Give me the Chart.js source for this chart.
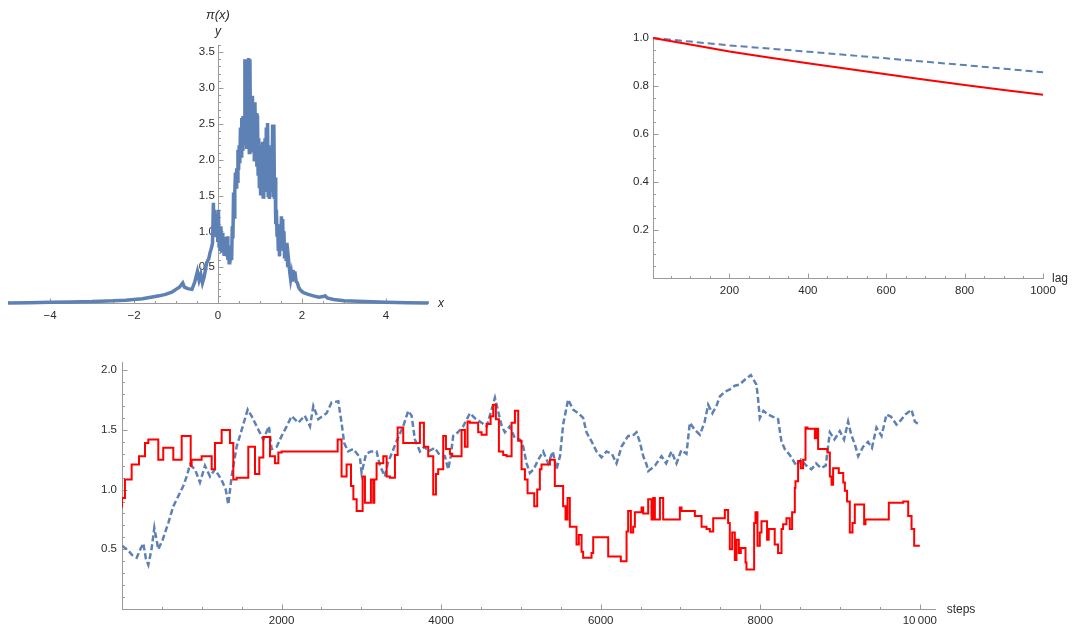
<!DOCTYPE html>
<html>
<head>
<meta charset="utf-8">
<script src="https://cdn.jsdelivr.net/npm/chart.js@4.4.1/dist/chart.umd.min.js"></script>
<style>
    body { margin: 0; background: #ffffff; }
    .box { position: absolute; }
</style>
</head>
<body>
<div class="box" style="left:0px;top:0px;"><canvas id="densityChart" width="470" height="330"></canvas></div>
<div class="box" style="left:600px;top:0px;"><canvas id="acfChart" width="478" height="320"></canvas></div>
<div class="box" style="left:0px;top:340px;"><canvas id="traceChart" width="1078" height="287"></canvas></div>
<script>
// ---- density pi(x) ----
const densX = [-5.0, -4.5, -4.0, -3.5, -3.0, -2.8, -2.5, -2.2, -2.0, -1.8, -1.6, -1.4, -1.25, -1.1, -1.0, -0.92, -0.84, -0.80, -0.72, -0.62,
    -0.55, -0.49, -0.45, -0.41, -0.37, -0.33, -0.27, -0.22, -0.19, -0.15, -0.13, -0.11, -0.095, -0.08, -0.065, -0.05, -0.035, -0.02, -0.005, 0.01,
    0.025, 0.04, 0.055, 0.07, 0.085, 0.10, 0.115, 0.13, 0.145, 0.16, 0.175, 0.19, 0.205, 0.22, 0.235, 0.25, 0.265, 0.28, 0.295, 0.31,
    0.325, 0.34, 0.355, 0.37, 0.385, 0.400, 0.415, 0.430, 0.445, 0.460, 0.475, 0.490, 0.505, 0.520, 0.535, 0.550, 0.565, 0.580, 0.595, 0.610,
    0.625, 0.640, 0.655, 0.670, 0.685, 0.700, 0.715, 0.730, 0.745, 0.760, 0.775, 0.790, 0.805, 0.820, 0.835, 0.850, 0.865, 0.880, 0.895, 0.910,
    0.925, 0.940, 0.955, 0.970, 0.985, 1.000, 1.015, 1.030, 1.045, 1.060, 1.075, 1.090, 1.105, 1.120, 1.135, 1.150, 1.165, 1.180, 1.195, 1.210,
    1.225, 1.240, 1.255, 1.270, 1.285, 1.300, 1.315, 1.330, 1.345, 1.360, 1.375, 1.390, 1.405, 1.420, 1.435, 1.450, 1.465, 1.480, 1.495, 1.510,
    1.525, 1.540, 1.555, 1.570, 1.585, 1.600, 1.62, 1.64, 1.66, 1.68, 1.71, 1.73, 1.75, 1.77, 1.79, 1.81, 1.83, 1.86, 1.89, 1.92,
    1.95, 2.0, 2.05, 2.15, 2.27, 2.40, 2.50, 2.55, 2.60, 2.75, 3.0, 3.5, 4.0, 4.5, 5.0];
const densY = [0.00, 0.005, 0.01, 0.015, 0.02, 0.025, 0.03, 0.04, 0.05, 0.06, 0.08, 0.10, 0.12, 0.15, 0.19, 0.22, 0.28, 0.22, 0.20, 0.19,
    0.30, 0.44, 0.32, 0.40, 0.28, 0.36, 0.56, 0.62, 0.70, 0.78, 0.84, 1.40, 1.00, 1.30, 0.95, 1.10, 0.92, 1.25, 0.85, 1.30,
    0.80, 1.05, 0.75, 1.07, 0.70, 0.98, 0.72, 0.90, 0.68, 0.92, 0.70, 0.85, 0.65, 0.93, 0.60, 0.80, 0.56, 0.72, 0.58, 0.70,
    0.60, 1.07, 0.90, 1.54, 1.20, 1.54, 1.82, 1.62, 1.88, 1.70, 2.14, 1.85, 2.20, 1.95, 2.45, 2.05, 2.58, 2.15, 2.61, 2.20,
    2.55, 3.40, 2.20, 3.38, 2.15, 3.40, 2.30, 3.42, 2.10, 3.40, 2.25, 2.85, 2.10, 2.89, 2.25, 2.75, 2.00, 2.80, 2.10, 2.65,
    1.90, 2.62, 1.80, 2.30, 1.60, 2.14, 1.50, 2.20, 1.55, 2.25, 1.48, 2.10, 1.60, 2.30, 1.55, 2.45, 1.60, 2.51, 1.50, 2.20,
    1.45, 1.95, 1.60, 2.00, 1.55, 2.49, 1.50, 2.49, 1.45, 1.75, 1.10, 1.30, 0.95, 1.10, 0.75, 0.95, 0.65, 1.00, 0.80, 1.21,
    0.85, 1.17, 0.75, 1.00, 0.62, 0.84, 0.61, 0.84, 0.50, 0.60, 0.42, 0.33, 0.40, 0.30, 0.46, 0.35, 0.44, 0.30, 0.28, 0.22,
    0.19, 0.16, 0.14, 0.12, 0.10, 0.08, 0.09, 0.10, 0.07, 0.05, 0.03, 0.02, 0.01, 0.005, 0.0];
const densXTicks = [-4, -2, 0, 2, 4];
const densYTicks = [0.5, 1.0, 1.5, 2.0, 2.5, 3.0, 3.5];

// ---- autocorrelation ----
const lags = [5, 100, 200, 300, 400, 500, 600, 700, 800, 900, 1000];
const acfRed = [1.0, 0.973, 0.944, 0.919, 0.895, 0.872, 0.849, 0.826, 0.804, 0.783, 0.763];
const acfBlue = [1.0, 0.985, 0.969, 0.956, 0.943, 0.929, 0.915, 0.901, 0.887, 0.872, 0.857];
const acfXTicks = [200, 400, 600, 800, 1000];
const acfYTicks = [0.2, 0.4, 0.6, 0.8, 1.0];

// ---- trace plots ----
const redSteps = [0, 37, 121, 213, 288, 330, 455, 517, 643, 748, 861, 873, 998, 1124, 1165, 1249, 1353, 1395, 1437, 1583,
    1667, 1721, 1771, 1855, 1917, 1960, 2001, 2703, 2752, 2815, 2870, 2900, 2941, 3016, 3045, 3120, 3149, 3162, 3191, 3275,
    3317, 3358, 3421, 3455, 3525, 3734, 3784, 3838, 3901, 3935, 3963, 4026, 4060, 4110, 4139, 4256, 4298, 4331, 4360, 4464,
    4507, 4570, 4620, 4653, 4686, 4724, 4778, 4820, 4883, 4925, 4966, 5008, 5050, 5083, 5167, 5204, 5237, 5258, 5363, 5425,
    5529, 5559, 5584, 5613, 5697, 5726, 5760, 5780, 5885, 5906, 6094, 6252, 6324, 6344, 6378, 6407, 6428, 6512, 6533, 6595,
    6637, 6658, 6679, 6742, 6783, 6992, 7013, 7180, 7264, 7326, 7368, 7410, 7556, 7597, 7618, 7648, 7681, 7702, 7731, 7756,
    7815, 7827, 7923, 7940, 7965, 7994, 8015, 8085, 8106, 8181, 8223, 8266, 8286, 8328, 8370, 8399, 8433, 8441, 8474, 8508,
    8537, 8567, 8592, 8684, 8705, 8725, 8842, 8872, 8893, 8913, 8984, 9040, 9060, 9088, 9122, 9156, 9185, 9302, 9319, 9611,
    9791, 9854, 9896, 9929, 9958, 10000];
const redValues = [0.85, 0.93, 1.085, 1.21, 1.28, 1.39, 1.42, 1.25, 1.35, 1.25, 1.45, 1.20, 1.25, 1.28, 1.17, 1.39, 1.50, 1.39, 1.085, 1.10,
    1.36, 1.13, 1.27, 1.44, 1.28, 1.22, 1.31, 1.32, 1.42, 1.11, 1.21, 1.03, 0.92, 0.82, 1.11, 0.89, 1.085, 0.89, 1.085, 1.22,
    1.28, 1.11, 1.10, 1.29, 1.52, 1.39, 1.56, 1.36, 1.28, 0.96, 1.13, 1.17, 1.45, 1.34, 1.30, 1.28, 1.50, 1.36, 1.57, 1.56,
    1.48, 1.46, 1.55, 1.615, 1.71, 1.59, 1.32, 1.29, 1.28, 1.56, 1.66, 1.41, 1.17, 1.085, 0.97, 0.86, 1.00, 1.17, 1.21, 1.25,
    1.03, 0.86, 0.75, 0.93, 0.69, 0.54, 0.62, 0.48, 0.43, 0.47, 0.60, 0.44, 0.40, 0.65, 0.82, 0.64, 0.69, 0.81, 0.85, 0.80,
    0.92, 0.75, 0.93, 0.75, 0.93, 0.75, 0.85, 0.82, 0.78, 0.69, 0.67, 0.65, 0.76, 0.83, 0.72, 0.50, 0.64, 0.41, 0.58, 0.47,
    0.51, 0.39, 0.33, 0.72, 0.81, 0.53, 0.64, 0.735, 0.58, 0.67, 0.54, 0.47, 0.67, 0.71, 0.76, 0.67, 0.81, 1.015, 1.07, 1.24,
    1.18, 1.25, 1.52, 1.51, 1.43, 1.51, 1.34, 1.31, 1.11, 1.04, 1.18, 1.14, 1.06, 0.99, 0.90, 0.64, 0.72, 0.875, 0.71, 0.75,
    0.89, 0.90, 0.78, 0.67, 0.53, 0.53];

const blueSteps = [0, 79, 130, 184, 230, 267, 300, 330, 370, 405, 455, 510, 580, 643, 705, 768, 811, 852, 915, 977,
    1040, 1103, 1165, 1249, 1300, 1332, 1374, 1437, 1500, 1575, 1625, 1688, 1771, 1842, 1875, 1940, 2001, 2064, 2126, 2210,
    2290, 2356, 2398, 2460, 2520, 2564, 2627, 2711, 2752, 2785, 2835, 2900, 2982, 3003, 3060, 3120, 3191, 3233, 3295, 3330,
    3441, 3525, 3587, 3630, 3671, 3734, 3790, 3840, 3920, 3970, 4047, 4089, 4120, 4151, 4210, 4277, 4360, 4420, 4507, 4570,
    4633, 4674, 4720, 4760, 4799, 4860, 4925, 4987, 5029, 5071, 5112, 5160, 5217, 5279, 5342, 5400, 5446, 5490, 5529, 5592,
    5654, 5720, 5780, 5822, 5885, 5947, 6010, 6073, 6140, 6198, 6261, 6344, 6400, 6449, 6490, 6533, 6575, 6596, 6680, 6762,
    6820, 6887, 6950, 7010, 7075, 7117, 7180, 7243, 7300, 7347, 7400, 7450, 7493, 7556, 7620, 7681, 7740, 7806, 7881, 7952,
    7973, 7994, 8040, 8098, 8160, 8223, 8265, 8307, 8370, 8453, 8510, 8580, 8641, 8700, 8760, 8820, 8872, 8930, 8997, 9050,
    9101, 9140, 9185, 9227, 9290, 9350, 9400, 9456, 9520, 9582, 9640, 9707, 9760, 9820, 9895, 9937, 10000];
const blueValues = [0.53, 0.49, 0.45, 0.43, 0.50, 0.55, 0.42, 0.37, 0.50, 0.68, 0.50, 0.58, 0.72, 0.86, 0.945, 1.03, 1.11, 1.21, 1.17, 1.06,
    1.20, 1.11, 1.17, 1.08, 1.00, 0.875, 1.11, 1.36, 1.50, 1.67, 1.615, 1.53, 1.42, 1.53, 1.34, 1.36, 1.45, 1.53, 1.615, 1.56,
    1.62, 1.53, 1.70, 1.59, 1.62, 1.64, 1.73, 1.74, 1.56, 1.39, 1.32, 1.34, 1.27, 1.14, 1.30, 1.32, 1.32, 1.20, 1.11, 1.22,
    1.405, 1.53, 1.66, 1.62, 1.42, 1.32, 1.36, 1.32, 1.35, 1.30, 1.28, 1.17, 1.28, 1.45, 1.48, 1.53, 1.64, 1.60, 1.56, 1.53,
    1.67, 1.77, 1.64, 1.53, 1.48, 1.53, 1.43, 1.42, 1.36, 1.22, 1.14, 1.17, 1.25, 1.32, 1.22, 1.32, 1.17, 1.28, 1.545, 1.755,
    1.67, 1.64, 1.60, 1.48, 1.405, 1.32, 1.27, 1.32, 1.30, 1.22, 1.36, 1.45, 1.45, 1.48, 1.40, 1.28, 1.21, 1.155, 1.20, 1.28,
    1.22, 1.32, 1.22, 1.33, 1.30, 1.56, 1.50, 1.46, 1.56, 1.71, 1.64, 1.70, 1.78, 1.82, 1.84, 1.87, 1.88, 1.92, 1.96, 1.88,
    1.755, 1.60, 1.66, 1.63, 1.61, 1.59, 1.405, 1.34, 1.29, 1.20, 1.25, 1.20, 1.17, 1.22, 1.18, 1.20, 1.48, 1.42, 1.49, 1.42,
    1.57, 1.46, 1.38, 1.28, 1.36, 1.40, 1.35, 1.52, 1.45, 1.63, 1.61, 1.545, 1.58, 1.63, 1.67, 1.57, 1.54];
const traceXTicks = [2000, 4000, 6000, 8000, 10000];
const traceYTicks = [0.5, 1.0, 1.5, 2.0];

const blue = '#5e81b5';
const red = '#ff0000';
const axisColor = '#9a9a9a';
const textColor = '#2b2b2b';
const tickFont = { family: '"Liberation Sans", Arial, sans-serif', size: 11.5 };

function toPoints(xs, ys) {
    return xs.map((x, i) => ({ x: x, y: ys[i] }));
}

function isMultiple(v, step) {
    const r = v / step;
    return Math.abs(r - Math.round(r)) < 1e-6;
}

// Mathematica style ticks: drawn inside the plot, major and minor
function drawTickSet(scale, o, fn) {
    const start = Math.ceil(scale.min / o.minor - 1e-6);
    const end = Math.floor(scale.max / o.minor + 1e-6);
    for (let i = start; i <= end; i++) {
        const v = i * o.minor;
        fn(Math.round(scale.getPixelForValue(v)) + 0.5, isMultiple(v, o.major) ? 5 : 2.5);
    }
}

const mmaAxes = {
    id: 'mmaAxes',
    beforeDatasetsDraw(chart, args, opts) {
        const ctx = chart.ctx;
        const xs = chart.scales.x;
        const ys = chart.scales.y;
        const yLine = Math.round(ys.getPixelForValue(ys.min)) + 0.5;
        const xLine = Math.round(xs.getPixelForValue(opts.yCross === undefined ? xs.min : opts.yCross)) + 0.5;
        ctx.save();
        ctx.strokeStyle = axisColor;
        ctx.lineWidth = 1;
        ctx.beginPath();
        drawTickSet(xs, opts.x, (p, len) => { ctx.moveTo(p, yLine); ctx.lineTo(p, yLine - len); });
        drawTickSet(ys, opts.y, (p, len) => { ctx.moveTo(xLine, p); ctx.lineTo(xLine + len, p); });
        ctx.stroke();
        ctx.restore();
    },
    afterDraw(chart, args, opts) {
        const ctx = chart.ctx;
        const xs = chart.scales.x;
        const ys = chart.scales.y;
        const yLine = ys.getPixelForValue(ys.min);
        const xLine = xs.getPixelForValue(opts.yCross === undefined ? xs.min : opts.yCross);
        ctx.save();
        ctx.fillStyle = textColor;
        ctx.textAlign = 'center';
        ctx.textBaseline = 'middle';
        (opts.labels || []).forEach(l => {
            ctx.font = l.font;
            const px = l.along === 'x' ? xs.right + l.dx : xLine + l.dx;
            const py = l.along === 'x' ? yLine + l.dy : ys.top + l.dy;
            ctx.fillText(l.text, px, py);
        });
        ctx.restore();
    }
};

function baseScale(tickValues, extra) {
    return Object.assign({
        type: 'linear',
        grid: { display: false, drawTicks: false },
        border: { display: true, color: axisColor, width: 1 },
        afterBuildTicks: s => { s.ticks = tickValues.map(v => ({ value: v })); }
    }, extra);
}

function tickOpts(padding, callback) {
    return {
        padding: padding, color: textColor, font: tickFont,
        autoSkip: false, maxRotation: 0, callback: callback
    };
}

function drawDensityChart() {
    const ctx = document.getElementById('densityChart').getContext('2d');
    return new Chart(ctx, {
        type: 'line',
        data: {
            datasets: [{
                data: toPoints(densX, densY),
                borderColor: blue,
                borderWidth: 3.5,
                pointRadius: 0,
                tension: 0,
                clip: false
            }]
        },
        options: {
            responsive: false,
            animation: false,
            devicePixelRatio: 1,
            layout: { padding: { left: 8, right: 42, top: 45, bottom: 0 } },
            scales: {
                x: baseScale(densXTicks, {
                    position: 'bottom', min: -5, max: 5,
                    afterFit: s => { s.height = 27; },
                    ticks: tickOpts(6, v => String(v).replace('-', '\u2212'))
                }),
                y: baseScale(densYTicks, {
                    position: { x: 0 }, min: 0, max: 3.6, z: 1,
                    afterFit: s => { s.width = 0; },
                    // trailing space keeps the label clear of the centred axis
                    ticks: tickOpts(4, v => v.toFixed(1) + ' ')
                })
            },
            plugins: {
                legend: { display: false },
                tooltip: { enabled: false },
                mmaAxes: {
                    yCross: 0,
                    x: { minor: 0.5, major: 2 },
                    y: { minor: 0.1, major: 0.5 },
                    labels: [
                        { text: '\u03c0(x)', along: 'y', dx: 0, dy: -30, font: 'italic 13px "Liberation Sans", Arial' },
                        { text: 'y', along: 'y', dx: 0, dy: -13, font: 'italic 12px "Liberation Sans", Arial' },
                        { text: 'x', along: 'x', dx: 13, dy: 1, font: 'italic 12px "Liberation Sans", Arial' }
                    ]
                }
            }
        },
        plugins: [mmaAxes]
    });
}

function drawAcfChart() {
    const ctx = document.getElementById('acfChart').getContext('2d');
    return new Chart(ctx, {
        type: 'line',
        data: {
            datasets: [{
                data: toPoints(lags, acfRed),
                borderColor: red,
                borderWidth: 2,
                pointRadius: 0,
                clip: false
            }, {
                data: toPoints(lags, acfBlue),
                borderColor: blue,
                borderWidth: 2,
                borderDash: [7, 4],
                pointRadius: 0,
                clip: false
            }]
        },
        options: {
            responsive: false,
            animation: false,
            devicePixelRatio: 1,
            layout: { padding: { left: 0, right: 35, top: 37, bottom: 0 } },
            scales: {
                x: baseScale(acfXTicks, {
                    position: 'bottom', min: 5, max: 1000,
                    afterFit: s => { s.height = 42; },
                    ticks: tickOpts(6, v => String(v))
                }),
                y: baseScale(acfYTicks, {
                    position: 'left', min: 0, max: 1.004,
                    afterFit: s => { s.width = 53; },
                    ticks: tickOpts(4, v => v.toFixed(1))
                })
            },
            plugins: {
                legend: { display: false },
                tooltip: { enabled: false },
                mmaAxes: {
                    x: { minor: 50, major: 200 },
                    y: { minor: 0.05, major: 0.2 },
                    labels: [
                        { text: 'lag', along: 'x', dx: 17, dy: 1, font: '12px "Liberation Sans", Arial' }
                    ]
                }
            }
        },
        plugins: [mmaAxes]
    });
}

function drawTraceChart() {
    const ctx = document.getElementById('traceChart').getContext('2d');
    return new Chart(ctx, {
        type: 'line',
        data: {
            datasets: [{
                data: toPoints(redSteps, redValues),
                borderColor: red,
                borderWidth: 2,
                pointRadius: 0,
                stepped: 'after'
            }, {
                data: toPoints(blueSteps, blueValues),
                borderColor: blue,
                borderWidth: 2.5,
                borderDash: [6, 3],
                pointRadius: 0
            }]
        },
        options: {
            responsive: false,
            animation: false,
            devicePixelRatio: 1,
            layout: { padding: { left: 0, right: 143, top: 22, bottom: 0 } },
            scales: {
                x: baseScale(traceXTicks, {
                    position: 'bottom', min: 0, max: 10190,
                    afterFit: s => { s.height = 18; },
                    ticks: tickOpts(5, v => (v === 10000 ? '10\u2009000' : String(v)))
                }),
                y: baseScale(traceYTicks, {
                    position: 'left', min: 0, max: 2.069,
                    afterFit: s => { s.width = 122; },
                    ticks: tickOpts(5, v => v.toFixed(1))
                })
            },
            plugins: {
                legend: { display: false },
                tooltip: { enabled: false },
                mmaAxes: {
                    x: { minor: 500, major: 2000 },
                    y: { minor: 0.1, major: 0.5 },
                    labels: [
                        { text: 'steps', along: 'x', dx: 26, dy: 1, font: '12px "Liberation Sans", Arial' }
                    ]
                }
            }
        },
        plugins: [mmaAxes]
    });
}

drawDensityChart();
drawAcfChart();
drawTraceChart();
</script>
</body>
</html>
